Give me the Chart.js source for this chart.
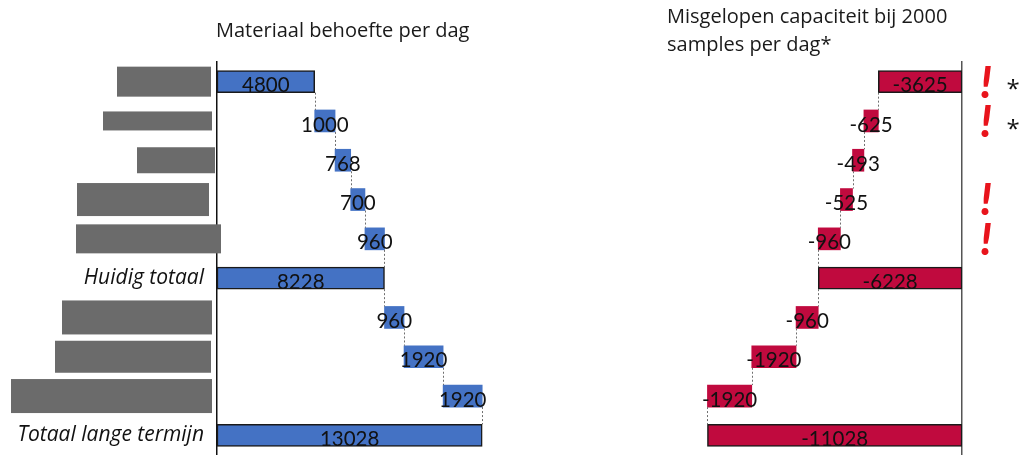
<!DOCTYPE html>
<html>
<head>
<meta charset="utf-8">
<script src="https://cdn.jsdelivr.net/npm/chart.js@4/dist/chart.umd.min.js"></script>
<style>
  html, body { margin: 0; padding: 0; background: #fff; }
  body { width: 1027px; height: 455px; position: relative; overflow: hidden; font-family: 'Open Sans', Lato, sans-serif; }
  #wrapL { position: absolute; left: 0; top: 0; width: 520px; height: 455px; }
  #wrapR { position: absolute; left: 600px; top: 0; width: 427px; height: 455px; }
  .title { position: absolute; color: #1a1a1a; font-size: 20px; white-space: nowrap; }
  #titleL { left: 216px; top: 16px; }
  #titleR { left: 667px; top: 2px; line-height: 28px; }
</style>
</head>
<body>
<div id="wrapL"><canvas id="chartL"></canvas></div>
<div id="wrapR"><canvas id="chartR"></canvas></div>
<div class="title" id="titleL">Materiaal behoefte per dag</div>
<div class="title" id="titleR">Misgelopen capaciteit bij 2000<br>samples per dag*</div>
<script>
// ---- data ----
const categories = ['', '', '', '', '', 'Huidig totaal', '', '', '', 'Totaal lange termijn'];
const isTotal = [false, false, false, false, false, true, false, false, false, true];
const materialValues = [4800, 1000, 768, 700, 960, 8228, 960, 1920, 1920, 13028];
const lostValues = [-3625, -625, -493, -525, -960, -6228, -960, -1920, -1920, -11028];
const warnRows = [true, true, false, true, true, false, false, false, false, false];
const starRows = [true, true, false, false, false, false, false, false, false, false];

// ---- redaction boxes (style: pixel extents of the grey boxes over hidden labels) ----
const redactLeft   = [117, 103, 137, 77, 76, null, 62, 55, 11, null];
const redactRight  = [211, 212, 215, 209, 221, null, 212, 211, 212, null];
const redactHeight = [30, 19, 26, 33, 29, null, 34, 32, 34, null];

function floating(values) {
  let cum = 0;
  return values.map((v, i) => {
    if (isTotal[i]) { cum = v; return [0, v]; }
    const r = [cum, cum + v]; cum += v; return r;
  });
}

const labelFont = '20.5px Lato';
const HALF = 11;

const labelPlugin = {
  id: 'wfLabels',
  afterDatasetsDraw(chart) {
    const ctx = chart.ctx;
    const meta = chart.getDatasetMeta(0);
    const ds = chart.data.datasets[0];
    const xs = chart.scales.x;
    // connectors
    ctx.save();
    ctx.strokeStyle = '#6f6f6f';
    ctx.lineWidth = 1;
    ctx.setLineDash([2, 2]);
    for (let i = 0; i < meta.data.length - 1; i++) {
      const endVal = ds.data[i][1];
      const x = Math.round(xs.getPixelForValue(endVal)) + 0.5;
      const y0 = meta.data[i].y + HALF;
      const y1 = meta.data[i + 1].y - HALF;
      ctx.beginPath(); ctx.moveTo(x, y0); ctx.lineTo(x, y1); ctx.stroke();
    }
    ctx.restore();
    // labels
    ctx.save();
    ctx.font = labelFont;
    ctx.fillStyle = '#111';
    ctx.textAlign = 'center';
    ctx.textBaseline = 'middle';
    meta.data.forEach((bar, i) => {
      const v = ds.raw[i];
      const cx = (bar.x + bar.base) / 2;
      const cy = bar.y + 4;
      ctx.save();
      if (ds.data[i][0] === 0) {
        ctx.beginPath();
        ctx.rect(Math.min(bar.x, bar.base) - 1, bar.y - HALF - 1, Math.abs(bar.x - bar.base) + 2, 2 * HALF + 1);
        ctx.clip();
      }
      ctx.fillText(String(v), cx, cy);
      ctx.restore();
    });
    ctx.restore();
  }
};

const redactPlugin = {
  id: 'redact',
  afterDraw(chart) {
    const ctx = chart.ctx;
    const ys = chart.scales.y;
    ctx.save();
    ctx.fillStyle = '#6b6b6b';
    categories.forEach((c, i) => {
      if (redactLeft[i] == null) return;
      const cy = ys.getPixelForValue(i);
      const h = redactHeight[i];
      ctx.fillRect(redactLeft[i], cy - h / 2, redactRight[i] - redactLeft[i], h);
    });
    ctx.restore();
  }
};

const warnPlugin = {
  id: 'warn',
  afterDraw(chart) {
    const ctx = chart.ctx;
    const ys = chart.scales.y;
    const right = chart.chartArea.right;
    ctx.save();
    ctx.textAlign = 'center';
    ctx.textBaseline = 'middle';
    categories.forEach((c, i) => {
      const cy = ys.getPixelForValue(i);
      if (warnRows[i]) {
        ctx.font = 'italic 900 43px Lato';
        ctx.fillStyle = '#e8141c';
        ctx.fillText('!', right + 24, cy + 2);
      }
      if (starRows[i]) {
        ctx.font = '24px "Open Sans"';
        ctx.fillStyle = '#111';
        ctx.fillText('*', right + 51, cy + 9);
      }
    });
    ctx.restore();
  }
};

function fixPad(scale) {
  scale.paddingTop = 0;
  scale.paddingBottom = 0;
}

function makeChart(id, values, color, opts) {
  const data = floating(values);
  const borderW = data.map(d => d[0] === 0 ? 1.5 : 0);
  const ds = {
    data: data,
    raw: values,
    backgroundColor: color,
    borderColor: '#1a1a1a',
    borderWidth: borderW,
    borderSkipped: false,
    barThickness: 2 * HALF
  };
  return new Chart(document.getElementById(id), {
    type: 'bar',
    data: { labels: categories, datasets: [ds] },
    options: {
      indexAxis: 'y',
      responsive: true,
      maintainAspectRatio: false,
      animation: false,
      layout: { padding: opts.padding },
      plugins: { legend: { display: false }, tooltip: { enabled: false } },
      scales: {
        x: { display: false, min: opts.min, max: opts.max, grid: { display: false } },
        y: opts.y
      }
    },
    plugins: opts.plugins
  });
}

makeChart('chartL', materialValues, '#4472c4', {
  padding: { top: 62, bottom: 0, left: 0, right: 18 },
  min: 0, max: 14000,
  y: {
    position: 'left',
    grid: { display: false, drawTicks: false },
    border: { display: true, color: '#111', width: 1.5 },
    ticks: { color: '#111', font: { family: 'Open Sans', style: 'italic', size: 21 }, padding: 13 },
    afterFit(scale) { scale.width = 217; fixPad(scale); }
  },
  plugins: [labelPlugin, redactPlugin]
});

makeChart('chartR', lostValues, '#c00a3e', {
  padding: { top: 62, bottom: 0, left: 85, right: 65 },
  min: -12000, max: 0,
  y: {
    position: 'right',
    grid: { display: false, drawTicks: false },
    border: { display: true, color: '#555', width: 1.5 },
    ticks: { display: false },
    afterFit(scale) { scale.width = 0; fixPad(scale); }
  },
  plugins: [labelPlugin, warnPlugin]
});
</script>
</body>
</html>
